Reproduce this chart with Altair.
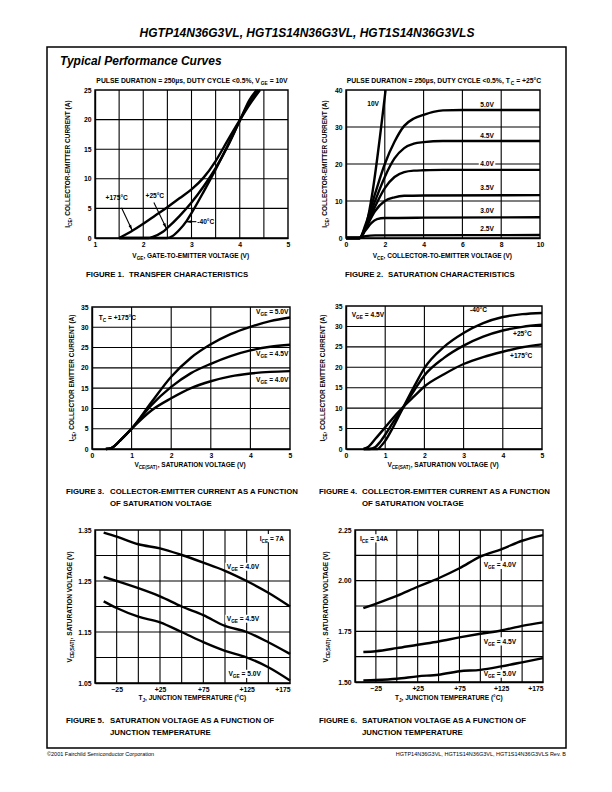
import math
import altair as alt
import pandas as pd

FONT = "Liberation Sans"
PAGE_W, PAGE_H = 596, 776

# ---------------- data ----------------
# Figure 1 : transfer characteristics, VGE (V) -> ICE (A)
f1_vge_175 = [1.5, 1.75, 2.0, 2.25, 2.5, 2.75, 3.0, 3.25, 3.5, 3.75, 4.0, 4.2, 4.42]
f1_ice_175 = [0.0, 1.1, 2.4, 3.8, 5.2, 6.7, 8.2, 10.2, 13.0, 16.5, 19.9, 22.5, 25.0]
f1_vge_25 = [1.5, 2.1, 2.2, 2.4, 2.5, 2.75, 3.0, 3.25, 3.5, 3.75, 4.0, 4.2, 4.38]
f1_ice_25 = [0.0, 0.0, 0.2, 1.0, 1.7, 3.7, 6.0, 8.7, 11.8, 15.5, 19.8, 23.0, 25.0]
f1_vge_m40 = [1.5, 2.5, 2.6, 2.75, 2.9, 3.0, 3.25, 3.5, 3.75, 4.0, 4.2, 4.35]
f1_ice_m40 = [0.0, 0.0, 0.3, 1.4, 2.9, 4.2, 7.8, 11.6, 15.6, 19.8, 23.3, 25.0]

# Figure 2 : saturation characteristics, VCE (V) -> ICE (A)
f2_vce_10 = [0.0, 0.7, 2.04]
f2_ice_10 = [0.0, 0.0, 40.0]
f2_vce_50 = [0.0, 0.7, 1.0, 1.5, 2.0, 2.5, 3.0, 3.5, 4.0, 4.5, 5.0, 6.0, 10.0]
f2_ice_50 = [0.0, 0.0, 3.5, 12.0, 20.0, 26.0, 30.3, 32.3, 33.3, 34.1, 34.5, 34.6, 34.6]
f2_vce_45 = [0.0, 0.7, 1.0, 1.5, 2.0, 2.5, 3.0, 3.5, 4.0, 5.0, 10.0]
f2_ice_45 = [0.0, 0.0, 3.0, 10.0, 16.5, 21.5, 24.3, 25.5, 25.9, 26.2, 26.2]
f2_vce_40 = [0.0, 0.7, 1.0, 1.5, 2.0, 2.5, 3.0, 3.5, 4.0, 5.0, 10.0]
f2_ice_40 = [0.0, 0.0, 2.5, 8.5, 13.5, 16.5, 17.8, 18.2, 18.3, 18.4, 18.4]
f2_vce_35 = [0.0, 0.7, 1.0, 1.5, 2.0, 2.5, 3.0, 4.0, 10.0]
f2_ice_35 = [0.0, 0.0, 2.5, 7.3, 10.0, 11.0, 11.4, 11.5, 11.6]
f2_vce_30 = [0.0, 0.7, 1.0, 1.3, 1.6, 2.0, 4.0, 10.0]
f2_ice_30 = [0.0, 0.0, 2.0, 4.0, 5.1, 5.4, 5.5, 5.6]
f2_vce_25 = [0.0, 0.7, 1.0, 1.5, 10.0]
f2_ice_25 = [0.0, 0.0, 0.5, 0.7, 0.8]

# Figure 3 : ICE vs VCE(SAT) at TC = +175C
f3_vce = [0.35, 0.5, 0.75, 1.0, 1.5, 2.0, 2.5, 3.0, 3.5, 4.0, 4.5, 5.0]
f3_ice_50 = [0.0, 0.3, 2.5, 5.0, 11.5, 17.8, 22.5, 25.8, 28.3, 30.1, 31.5, 32.4]
f3_ice_45 = [0.0, 0.3, 2.5, 5.0, 10.8, 15.3, 18.7, 21.0, 22.9, 24.3, 25.2, 25.7]
f3_ice_40 = [0.0, 0.3, 2.5, 5.0, 9.5, 12.5, 15.0, 16.7, 17.9, 18.6, 19.0, 19.2]

# Figure 4 : ICE vs VCE(SAT) at VGE = 4.5V
f4_vce_m40 = [0.45, 0.8, 0.9, 1.0, 1.2, 1.45, 1.75, 2.0, 2.5, 3.0, 3.5, 4.0, 4.5, 5.0]
f4_ice_m40 = [0.0, 0.0, 0.8, 2.0, 5.3, 10.0, 15.5, 19.8, 25.0, 28.4, 30.8, 32.3, 33.0, 33.3]
f4_vce_25 = [0.45, 0.6, 0.75, 0.85, 1.0, 1.2, 1.45, 1.75, 2.0, 2.5, 3.0, 3.5, 4.0, 4.5, 5.0]
f4_ice_25 = [0.0, 0.0, 0.5, 1.5, 3.5, 6.5, 10.0, 14.5, 18.0, 22.3, 25.3, 27.5, 29.0, 29.9, 30.4]
f4_vce_175 = [0.45, 0.55, 0.75, 1.0, 1.2, 1.45, 1.75, 2.0, 2.5, 3.0, 3.5, 4.0, 4.5, 5.0]
f4_ice_175 = [0.0, 0.4, 2.5, 5.3, 7.6, 10.2, 13.0, 15.3, 18.3, 20.8, 22.5, 23.8, 24.9, 25.6]

# Figure 5 / 6 : VCE(SAT) vs junction temperature
tj = [-40, -25, 0, 25, 50, 75, 100, 125, 150, 175]
f5_v40 = [1.345, 1.337, 1.322, 1.314, 1.301, 1.286, 1.270, 1.250, 1.227, 1.200]
f5_v45 = [1.258, 1.250, 1.236, 1.220, 1.200, 1.183, 1.162, 1.150, 1.130, 1.107]
f5_v50 = [1.210, 1.197, 1.180, 1.169, 1.150, 1.130, 1.113, 1.100, 1.081, 1.055]
f6_v40 = [1.864, 1.886, 1.925, 1.970, 2.012, 2.061, 2.119, 2.155, 2.197, 2.225]
f6_v45 = [1.648, 1.652, 1.667, 1.684, 1.700, 1.720, 1.738, 1.754, 1.777, 1.794]
f6_v50 = [1.508, 1.510, 1.516, 1.528, 1.536, 1.553, 1.560, 1.577, 1.597, 1.618]

# ---------------- helpers ----------------
ONE = alt.Data(values=[{"k": 0}])

WID = {' ': 278, '!': 333, '%': 889, '(': 333, ')': 333, '+': 584, ',': 278, '-': 333,
       '.': 278, '/': 278, '<': 584, '=': 584, '°': 400, 'µ': 611, 's': 556}
for d in "0123456789":
    WID[d] = 556
WID.update(dict(A=722, B=722, C=722, D=722, E=667, F=611, G=778, H=722, I=278, J=556, K=722,
                L=611, M=833, N=722, O=778, P=667, Q=778, R=722, S=667, T=611, U=722, V=667,
                W=944, X=667, Y=667, Z=611))


def tw(s, size):
    return sum(WID.get(c, 600) for c in s) * size / 1000.0


def rich(segs, size, xe, ye, x2e=None, y2e=None, align="left", angle=None, box=False):
    """segs: list of (text, is_subscript). Returns (box_layers, text_layers)."""
    sub = size * 0.72
    ws = [tw(t, sub if s else size) for t, s in segs]
    tot = sum(ws)
    start = {"left": 0.0, "center": -tot / 2.0, "right": -tot}[align]
    boxes, texts = [], []
    if box:
        boxes.append(alt.Chart(ONE).mark_rect(
            color="white", xOffset=start - 1.5, x2Offset=start + tot + 1.5,
            yOffset=-0.62 * size, y2Offset=0.62 * size).encode(x=xe, x2=x2e, y=ye, y2=y2e))
    cum = start
    for (t, s), w in zip(segs, ws):
        fs = sub if s else size
        stripped = t.lstrip(" ")
        lead = tw(t[:len(t) - len(stripped)], fs)
        kw = dict(align="left", baseline="alphabetic", font=FONT, fontSize=fs,
                  fontWeight="bold", color="black", dx=cum + lead,
                  dy=0.36 * size + (0.3 * size if s else 0.0))
        if angle is not None:
            kw["angle"] = angle
        texts.append(alt.Chart(ONE).mark_text(**kw).encode(x=xe, y=ye, text=alt.value(stripped)))
        cum += w
    return boxes, texts


def ptext(segs, x, y, size, align="left", angle=None):
    """text placed in page pixels"""
    _, t = rich(segs, size, alt.value(x - 8), alt.value(y - 8), align=align, angle=angle)
    return t


def plain(text, x, y, size, align="left", weight="bold", style="normal"):
    return alt.Chart(ONE).mark_text(
        align=align, baseline="middle", font=FONT, fontSize=size, fontWeight=weight,
        fontStyle=style, color="black").encode(
        x=alt.value(x - 8), y=alt.value(y - 8), text=alt.value(text))


def long_df(series):
    rows = []
    for name, xs, ys in series:
        for i, (a, b) in enumerate(zip(xs, ys)):
            rows.append({"s": name, "i": i, "x": a, "y": b})
    return pd.DataFrame(rows)


AXC = dict(title=None, grid=False, ticks=True, tickSize=0, domain=True, domainColor="black",
           domainWidth=1.4, labelFont=FONT, labelFontSize=6.8, labelFontWeight="bold",
           labelColor="black", labelFlush=False, labelOverlap=False, zindex=1)


def make_panel(box, xdom, ydom, xgrid, ygrid, xvals, yvals, series, labels,
               xfmt="d", yfmt="d", xexpr=None, arrows=()):
    x0, x1, yt, yb = box
    sx = alt.Scale(domain=xdom, range=[x0 - 8, x1 - 8], nice=False, zero=False)
    sy = alt.Scale(domain=ydom, range=[yb - 8, yt - 8], nice=False, zero=False)
    xkw = dict(orient="bottom", offset=(yb - 8) - PAGE_H, values=xvals, format=xfmt, labelPadding=3, **AXC)
    if xexpr:
        xkw["labelExpr"] = xexpr
        xkw["labelAlign"] = alt.condition(f"datum.value >= {xdom[1]}", alt.value("right"), alt.value("center"))
    axx = alt.Axis(**xkw)
    axy = alt.Axis(orient="left", offset=-(x0 - 8), values=yvals, format=yfmt, labelPadding=4, **AXC)

    # every layer of a panel carries the same axis definition so that they merge into one
    def XD(v):
        return alt.XDatum(v, scale=sx, axis=axx)

    def YD(v):
        return alt.YDatum(v, scale=sy, axis=axy)

    layers = []
    layers.append(alt.Chart(pd.DataFrame({"g": xgrid})).mark_rule(color="black", strokeWidth=1.1).encode(
        x=alt.X("g:Q", scale=sx, axis=axx), y=YD(ydom[0]), y2=alt.datum(ydom[1])))
    layers.append(alt.Chart(pd.DataFrame({"g": ygrid})).mark_rule(color="black", strokeWidth=1.1).encode(
        y=alt.Y("g:Q", scale=sy, axis=axy), x=XD(xdom[0]), x2=alt.datum(xdom[1])))
    boxes, texts = [], []
    for lab in labels:
        b, t = rich(lab["segs"], 6.6, XD(lab["x"]), YD(lab["y"]), alt.datum(lab["x"]),
                    alt.datum(lab["y"]), align=lab.get("align", "center"), box=lab.get("box", False))
        boxes += b
        texts += t
    layers += boxes
    layers.append(alt.Chart(ONE).mark_rect(filled=False, stroke="black", strokeWidth=1.4).encode(
        x=XD(xdom[0]), x2=alt.datum(xdom[1]), y=YD(ydom[0]), y2=alt.datum(ydom[1])))
    layers.append(alt.Chart(long_df(series)).mark_line(
        color="black", strokeWidth=2.4, interpolate="monotone").encode(
        x=alt.X("x:Q", scale=sx, axis=axx), y=alt.Y("y:Q", scale=sy, axis=axy),
        detail="s:N", order="i:Q"))
    kx = (x1 - x0) / (xdom[1] - xdom[0])
    ky = (yb - yt) / (ydom[1] - ydom[0])
    for (xa, ya, xb, ybb) in arrows:
        layers.append(alt.Chart(ONE).mark_rule(color="black", strokeWidth=1.1).encode(
            x=XD(xa), y=YD(ya), x2=alt.datum(xb), y2=alt.datum(ybb)))
        dxp = (xb - xa) * kx
        dyp = -(ybb - ya) * ky
        ang = math.degrees(math.atan2(dxp, -dyp)) % 360
        L = math.hypot(dxp, dyp)
        back = 2.6
        cx = xb - (dxp / L * back) / kx
        cy = ybb + (dyp / L * back) / ky
        layers.append(alt.Chart(ONE).mark_point(
            shape="M0,-1L0.5,1L-0.5,1Z", filled=True, color="black", opacity=1,
            size=34, angle=ang).encode(x=XD(cx), y=YD(cy)))
    layers += texts
    return alt.layer(*layers)


def vge(v):
    return [("V", 0), ("GE", 1), (" = " + v, 0)]


PLUS = "datum.value > 0 ? '+' + datum.label : datum.label"

p1 = make_panel(
    (95, 288, 90, 238), [1, 5], [0, 25],
    [1.5, 2, 2.5, 3, 3.5, 4, 4.5], [5, 10, 15, 20], [1, 2, 3, 4, 5], [0, 5, 10, 15, 20, 25],
    [("+175", f1_vge_175, f1_ice_175), ("+25", f1_vge_25, f1_ice_25), ("-40", f1_vge_m40, f1_ice_m40)],
    [dict(segs=[("+175°C", 0)], x=1.45, y=6.9), dict(segs=[("+25°C", 0)], x=2.24, y=7.1),
     dict(segs=[("-40°C", 0)], x=3.12, y=2.76, align="left")],
    arrows=[(1.55, 5.1, 1.77, 1.3), (2.22, 6.0, 2.48, 1.6), (3.1, 2.76, 2.88, 2.76)])

p2 = make_panel(
    (346, 540, 90, 238), [0, 10], [0, 40],
    [2, 4, 6, 8], [10, 20, 30], [0, 2, 4, 6, 8, 10], [0, 10, 20, 30, 40],
    [("10", f2_vce_10, f2_ice_10), ("5.0", f2_vce_50, f2_ice_50), ("4.5", f2_vce_45, f2_ice_45),
     ("4.0", f2_vce_40, f2_ice_40), ("3.5", f2_vce_35, f2_ice_35), ("3.0", f2_vce_30, f2_ice_30),
     ("2.5", f2_vce_25, f2_ice_25)],
    [dict(segs=[("10V", 0)], x=1.4, y=36.4), dict(segs=[("5.0V", 0)], x=7.27, y=36.1),
     dict(segs=[("4.5V", 0)], x=7.27, y=27.6), dict(segs=[("4.0V", 0)], x=7.27, y=20.0, box=True),
     dict(segs=[("3.5V", 0)], x=7.27, y=13.7), dict(segs=[("3.0V", 0)], x=7.27, y=7.4),
     dict(segs=[("2.5V", 0)], x=7.27, y=2.5)])

p3 = make_panel(
    (92, 290, 307, 449), [0, 5], [0, 35],
    [1, 2, 3, 4], [5, 10, 15, 20, 25, 30], [0, 1, 2, 3, 4, 5], [0, 5, 10, 15, 20, 25, 30, 35],
    [("5.0", f3_vce, f3_ice_50), ("4.5", f3_vce, f3_ice_45), ("4.0", f3_vce, f3_ice_40)],
    [dict(segs=vge("5.0V"), x=4.96, y=33.9, align="right"),
     dict(segs=vge("4.5V"), x=4.96, y=23.6, align="right"),
     dict(segs=vge("4.0V"), x=4.96, y=17.1, align="right"),
     dict(segs=[("T", 0), ("C", 1), (" = +175°C", 0)], x=0.17, y=32.4, align="left")])

p4 = make_panel(
    (346, 542, 306, 449), [0, 5], [0, 35],
    [1, 2, 3, 4], [5, 10, 15, 20, 25, 30], [0, 1, 2, 3, 4, 5], [0, 5, 10, 15, 20, 25, 30, 35],
    [("-40", f4_vce_m40, f4_ice_m40), ("+25", f4_vce_25, f4_ice_25), ("+175", f4_vce_175, f4_ice_175)],
    [dict(segs=vge("4.5V"), x=0.145, y=33.0, align="left"),
     dict(segs=[("-40°C", 0)], x=3.38, y=34.2), dict(segs=[("+25°C", 0)], x=4.5, y=28.2),
     dict(segs=[("+175°C", 0)], x=4.47, y=22.8)])

p5 = make_panel(
    (95, 290, 530, 683), [-50, 175], [1.05, 1.35],
    [-25, 0, 25, 50, 75, 100, 125, 150], [1.10, 1.15, 1.20, 1.25, 1.30],
    [-25, 25, 75, 125, 175], [1.05, 1.15, 1.25, 1.35],
    [("4.0", tj, f5_v40), ("4.5", tj, f5_v45), ("5.0", tj, f5_v50)],
    [dict(segs=[("I", 0), ("CE", 1), (" = 7A", 0)], x=140, y=1.334, align="left", box=True),
     dict(segs=vge("4.0V"), x=102, y=1.278, align="left", box=True),
     dict(segs=vge("4.5V"), x=102, y=1.176, align="left", box=True),
     dict(segs=vge("5.0V"), x=104, y=1.068, align="left", box=True)],
    yfmt=".2f", xexpr=PLUS)

p6 = make_panel(
    (355, 543, 530, 682), [-50, 175], [1.50, 2.25],
    [-25, 0, 25, 50, 75, 100, 125, 150], [1.625, 1.75, 1.875, 2.0, 2.125],
    [-25, 25, 75, 125, 175], [1.50, 1.75, 2.00, 2.25],
    [("4.0", tj, f6_v40), ("4.5", tj, f6_v45), ("5.0", tj, f6_v50)],
    [dict(segs=[("I", 0), ("CE", 1), (" = 14A", 0)], x=-44, y=2.209, align="left", box=True),
     dict(segs=vge("4.0V"), x=104, y=2.078, align="left", box=True),
     dict(segs=vge("4.5V"), x=104, y=1.70, align="left", box=True),
     dict(segs=vge("5.0V"), x=104, y=1.541, align="left", box=True)],
    yfmt=".2f", xexpr=PLUS)

# ---------------- page decorations ----------------
deco = []
deco.append(alt.Chart(ONE).mark_rect(filled=False, stroke="black", strokeWidth=1.5).encode(
    x=alt.value(47 - 8), x2=alt.value(566 - 8), y=alt.value(47 - 8), y2=alt.value(748 - 8)))
deco.append(plain("HGTP14N36G3VL, HGT1S14N36G3VL, HGT1S14N36G3VLS", 307, 33, 12, align="center", style="italic"))
deco.append(plain("Typical Performance Curves", 60, 61, 12, style="italic"))
deco.append(plain("©2001 Fairchild Semiconductor Corporation", 47, 754, 5.5, weight="normal"))
deco.append(plain("HGTP14N36G3VL, HGT1S14N36G3VL, HGT1S14N36G3VLS Rev. B", 566, 754, 5.5,
                  align="right", weight="normal"))

# notes above figures 1 and 2
deco += ptext([("PULSE DURATION = 250µs, DUTY CYCLE <0.5%, V", 0), ("GE", 1), (" = 10V", 0)], 192, 81, 6.8, "center")
deco += ptext([("PULSE DURATION = 250µs, DUTY CYCLE <0.5%, T", 0), ("C", 1), (" = +25°C", 0)], 444, 81, 6.8, "center")

# axis titles
ICE1 = [("I", 0), ("CE", 1), (", COLLECTOR-EMITTER CURRENT (A)", 0)]
ICE2 = [("I", 0), ("CE", 1), (", COLLECTOR EMITTER CURRENT (A)", 0)]
VSAT = [("V", 0), ("CE(SAT)", 1), (", SATURATION VOLTAGE (V)", 0)]
TJT = [("T", 0), ("J", 1), (", JUNCTION TEMPERATURE (°C)", 0)]
deco += ptext([("V", 0), ("GE", 1), (", GATE-TO-EMITTER VOLTAGE (V)", 0)], 191.5, 256, 6.5, "center")
deco += ptext([("V", 0), ("CE", 1), (", COLLECTOR-TO-EMITTER VOLTAGE (V)", 0)], 443, 256, 6.5, "center")
deco += ptext(VSAT, 191, 465, 6.5, "center")
deco += ptext(VSAT, 444, 465, 6.5, "center")
deco += ptext(TJT, 192.5, 698, 6.5, "center")
deco += ptext(TJT, 449, 698, 6.5, "center")
deco += ptext(ICE1, 68, 164, 6.5, "center", angle=270)
deco += ptext(ICE1, 325, 164, 6.5, "center", angle=270)
deco += ptext(ICE2, 72, 378, 6.5, "center", angle=270)
deco += ptext(ICE2, 323, 378, 6.5, "center", angle=270)
deco += ptext(VSAT, 70, 606, 6.5, "center", angle=270)
deco += ptext(VSAT, 326, 606, 6.5, "center", angle=270)

# figure captions
CS = 7.8
deco.append(plain("FIGURE 1.", 86, 275, CS))
deco.append(plain("TRANSFER CHARACTERISTICS", 129, 275, CS))
deco.append(plain("FIGURE 2.", 345, 275, CS))
deco.append(plain("SATURATION CHARACTERISTICS", 388, 275, CS))
deco.append(plain("FIGURE 3.", 66, 492, CS))
deco.append(plain("COLLECTOR-EMITTER CURRENT AS A FUNCTION", 110, 492, CS))
deco.append(plain("OF SATURATION VOLTAGE", 110, 504, CS))
deco.append(plain("FIGURE 4.", 319, 492, CS))
deco.append(plain("COLLECTOR-EMITTER CURRENT AS A FUNCTION", 362, 492, CS))
deco.append(plain("OF SATURATION VOLTAGE", 362, 504, CS))
deco.append(plain("FIGURE 5.", 66, 721, CS))
deco.append(plain("SATURATION VOLTAGE AS A FUNCTION OF", 110, 721, CS))
deco.append(plain("JUNCTION TEMPERATURE", 110, 733, CS))
deco.append(plain("FIGURE 6.", 319, 721, CS))
deco.append(plain("SATURATION VOLTAGE AS A FUNCTION OF", 362, 721, CS))
deco.append(plain("JUNCTION TEMPERATURE", 362, 733, CS))

chart = alt.layer(p1, p2, p3, p4, p5, p6, *deco).resolve_scale(
    x="independent", y="independent"
).properties(
    width=PAGE_W, height=PAGE_H, autosize=alt.AutoSizeParams(type="none"), padding=0,
    background="white"
).configure_view(stroke=None)

chart.save("out.html", embed_options={"renderer": "svg", "actions": False})
